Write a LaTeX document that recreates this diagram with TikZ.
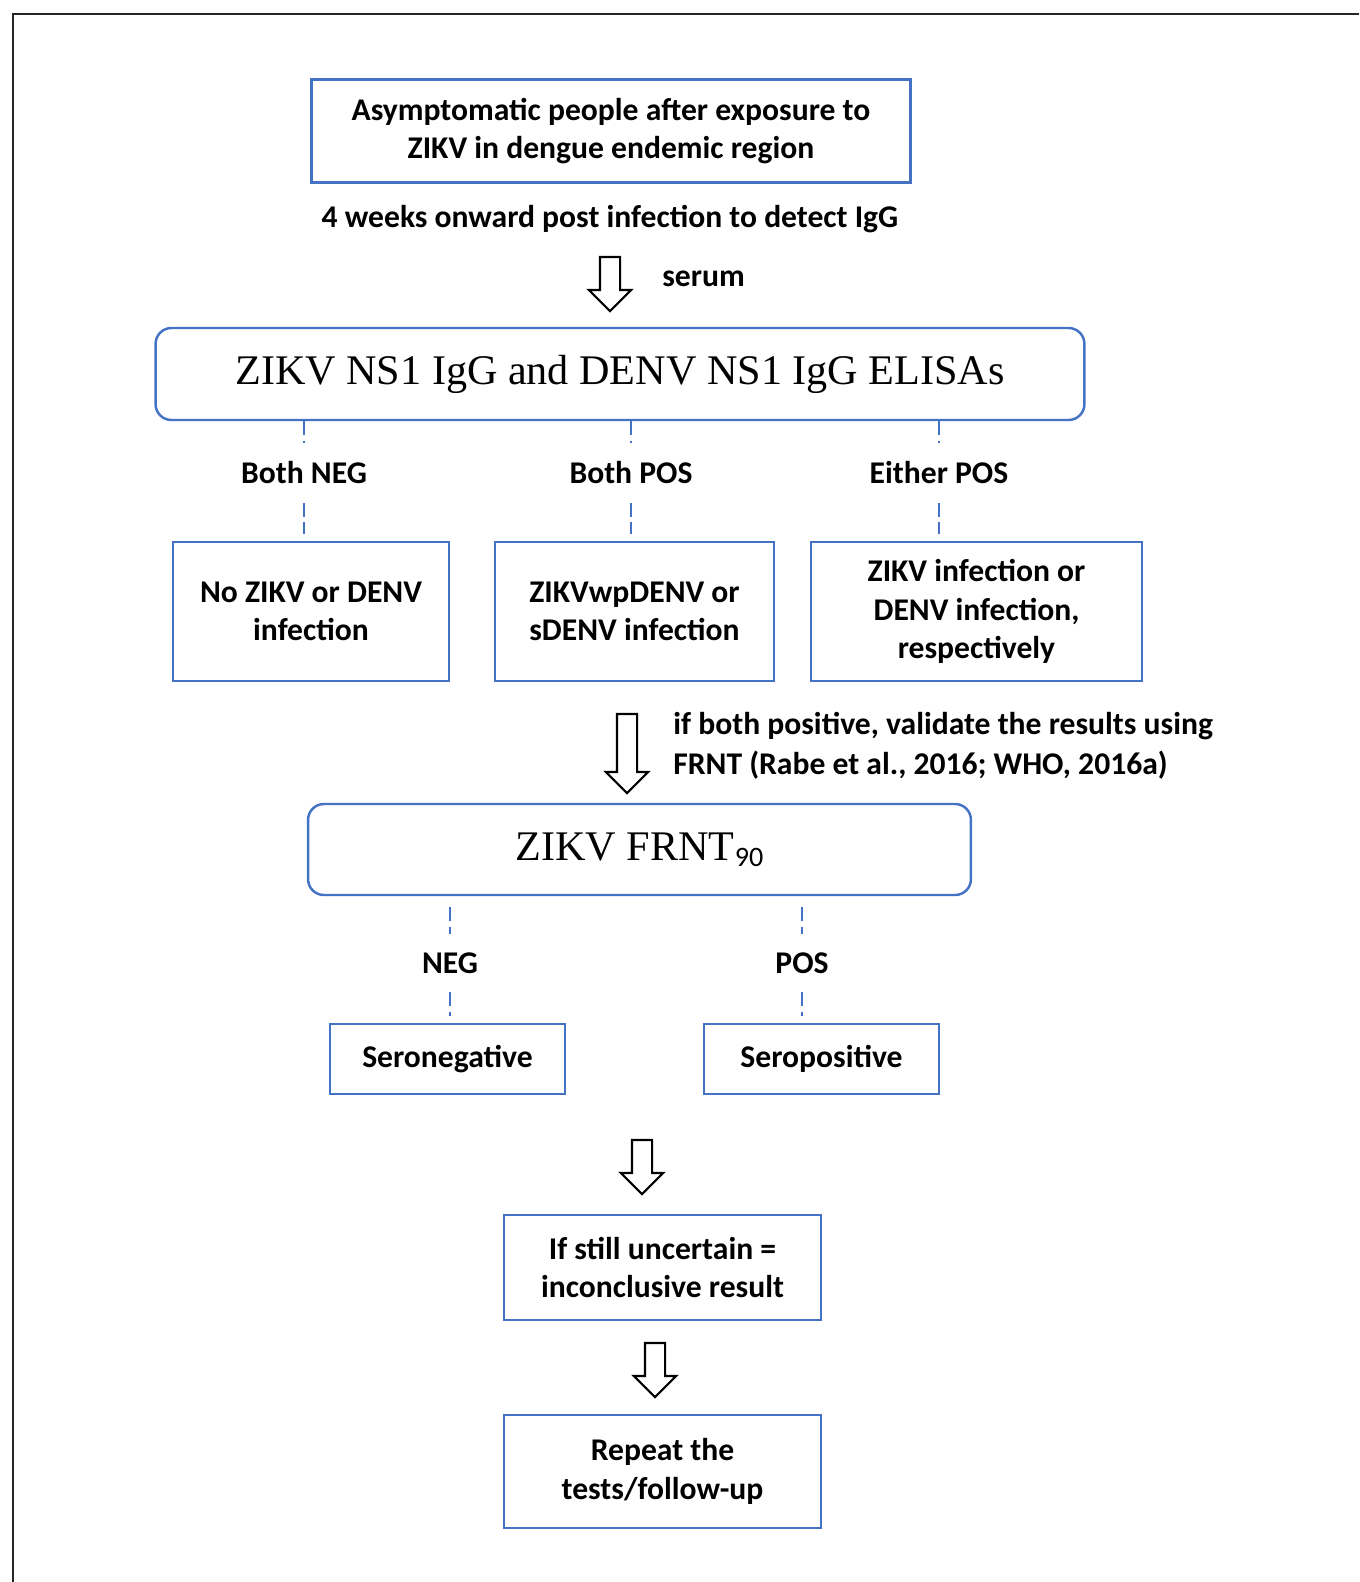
\documentclass[tikz,border=0pt]{standalone}
\usepackage{fontspec}
\setmainfont{Carlito}
\newfontfamily\serifhead{Liberation Serif}
\usetikzlibrary{shapes.arrows, positioning}
\definecolor{boxblue}{RGB}{68,114,196}
\tikzset{
  flow/.style={rectangle, draw=boxblue, line width=1.4pt, align=center,
               font=\bfseries\fontsize{18}{22}\selectfont, inner sep=0pt},
  test/.style={flow, rounded corners=9pt,
               font=\serifhead\fontsize{24}{28}\selectfont},
  note/.style={align=center, font=\bfseries\fontsize{18}{23}\selectfont, inner sep=0pt},
  res/.style={note, inner ysep=0.37cm},
  link/.style={boxblue, line width=0.9pt, dash pattern=on 8pt off 3pt},
  fat/.style={single arrow, draw, line width=1.2pt, shape border rotate=270,
              minimum width=0.8cm, single arrow head extend=0.22cm, inner sep=0.18cm},
}
\begin{document}
\begin{tikzpicture}[x=0.02cm, y=-0.02cm]
  \useasboundingbox (0,0) rectangle (1359,1582);
  \draw[line width=1.6pt, black!85] (13,1582) |- (1359,14);

  \node[flow, minimum width=11.98cm, minimum height=2.06cm] (expo) at (611,131)
    {Asymptomatic people after exposure to\\ZIKV in dengue endemic region};
  \node[note] (weeks) at (610,219) {4 weeks onward post infection to detect IgG};
  \node[fat, minimum height=1.08cm] (dn1) at (610,279) {};
  \node[note, anchor=west] (serum) at (662,279) {serum};

  \node[test, minimum width=18.58cm, minimum height=1.84cm] (elisa) at (620,374)
    {ZIKV NS1 IgG and DENV NS1 IgG ELISAs};
  \node[res] (bneg) at (304,473) {Both NEG};
  \node[res] (bpos) at (631,473) {Both POS};
  \node[res] (epos) at (939,473) {Either POS};
  \node[flow, minimum width=5.52cm, minimum height=2.78cm] (nozd) at (311,611.5)
    {No ZIKV or DENV\\infection};
  \node[flow, minimum width=5.58cm, minimum height=2.78cm] (wpd) at (634.5,611.5)
    {ZIKVwpDENV or\\sDENV infection};
  \node[flow, minimum width=6.62cm, minimum height=2.78cm] (either) at (976.5,611.5)
    {ZIKV infection or\\DENV infection,\\respectively};
  \foreach \r/\b in {bneg/nozd, bpos/wpd, epos/either} {
    \draw[link] (elisa.south -| \r) -- (\r);
    \draw[link, shorten >=0.14cm] (\r) -- (\b.north -| \r);
  }

  \node[fat, minimum height=1.58cm] (dn2) at (627,748.5) {};
  \node[note, align=left, anchor=west] (valid) at (673,746)
    {if both positive, validate the results using\\FRNT (Rabe et al., 2016; WHO, 2016a)};

  \node[test, minimum width=13.26cm, minimum height=1.82cm] (frnt) at (639.5,849.5)
    {ZIKV FRNT\raisebox{-0.3ex}{\normalfont\fontsize{16}{16}\selectfont 90}};
  \node[res] (fneg) at (450,963) {NEG};
  \node[res] (fpos) at (802,963) {POS};
  \node[flow, minimum width=4.7cm, minimum height=1.4cm] (seroneg) at (447.5,1059)
    {Seronegative};
  \node[flow, minimum width=4.7cm, minimum height=1.4cm] (seropos) at (821.5,1059)
    {Seropositive};
  \foreach \r/\b in {fneg/seroneg, fpos/seropos} {
    \draw[link, shorten <=0.22cm] (frnt.south -| \r) -- (\r);
    \draw[link, shorten >=0.14cm] (\r) -- (\b.north -| \r);
  }

  \node[fat, minimum height=1.08cm] (dn3) at (642,1162) {};
  \node[flow, minimum width=6.34cm, minimum height=2.1cm] (unsure) at (662.5,1267.5)
    {If still uncertain =\\inconclusive result};
  \node[fat, minimum height=1.08cm] (dn4) at (655,1365) {};
  \node[flow, minimum width=6.34cm, minimum height=2.26cm] (repeat) at (662.5,1471.5)
    {Repeat the\\tests/follow-up};
\end{tikzpicture}
\end{document}
